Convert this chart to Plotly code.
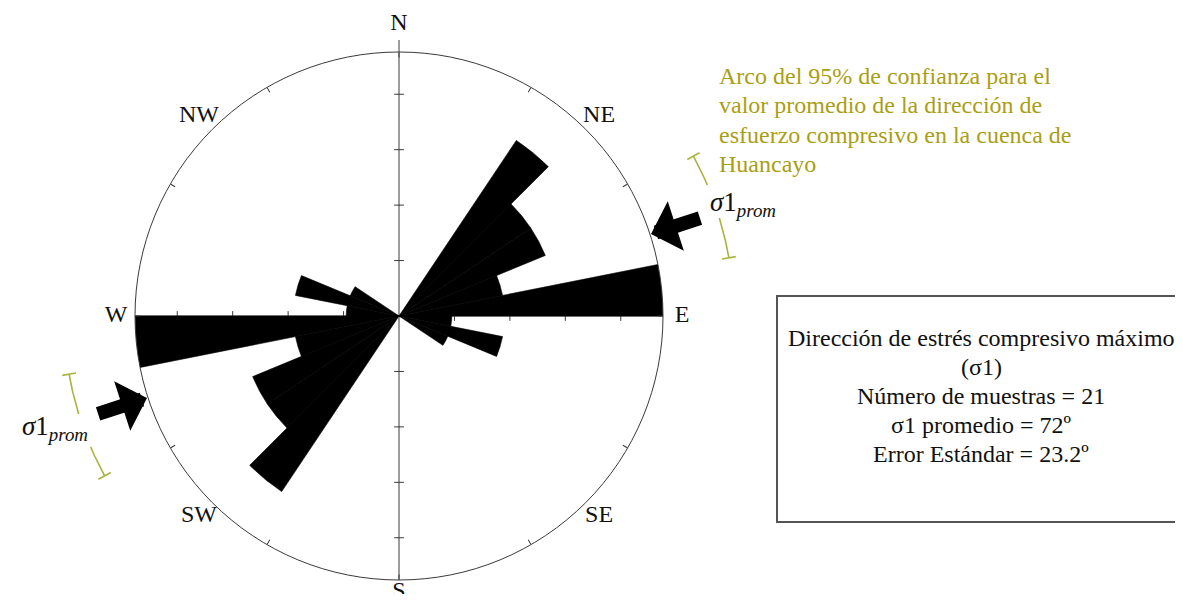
import numpy as np
import plotly.graph_objects as go

# ---------------- data ----------------
bin_width = 11.25
bin_starts_half = [i * bin_width for i in range(16)]          # 0 .. 168.75
counts_half = [0, 0, 0, 4, 3, 3, 2, 5, 1, 2, 1, 0, 0, 0, 0, 0]  # bidirectional, mirrored at +180
n_samples = 21
mean_dir = 72.0
std_error = 23.2
ci_segments = [(61.5, 67.0), (73.0, 80.0)]   # 95% confidence arc (drawn around the mean label)
radial_ticks = [5, 10, 15, 20]               # percent
circle_ticks = list(range(0, 360, 30))
compass_labels = ["N", "NE", "E", "SE", "S", "SW", "W", "NW"]
compass_az = [0, 45, 90, 135, 180, 225, 270, 315]
note_lines = ["Arco del 95% de confianza para el",
              "valor promedio de la dirección de",
              "esfuerzo compresivo en la cuenca de",
              "Huancayo"]
box_lines = ["Dirección de estrés compresivo máximo",
             "(σ1)",
             f"Número de muestras = {n_samples}",
             f"σ1 promedio = {mean_dir:.0f}º",
             f"Error Estándar = {std_error}º"]

# ---------------- geometry (page has an 8px body margin) ----------------
OFF = 8
W, H = 1183 - OFF, 602 - 2 * OFF   # avoid page scrollbars
cx, cy, R_px = 399 - OFF, 316 - OFF, 264


def px(sx):  # screen x -> paper
    return (sx - OFF) / W


def py(sy):  # screen y -> paper
    return 1 - (sy - OFF) / H


theta = [s + bin_width / 2 for s in bin_starts_half] + [s + 180 + bin_width / 2 for s in bin_starts_half]
counts = counts_half + counts_half
pct = [c / n_samples * 100 for c in counts]
pmax = max(pct)
s = R_px / pmax  # px per percent


def xy(az, r):
    a = np.radians(az)
    return r * np.sin(a), r * np.cos(a)


fig = go.Figure()

# polar rose
fig.add_trace(go.Barpolar(
    r=pct, theta=theta, width=[bin_width] * len(theta),
    marker=dict(color="black", line=dict(color="black", width=0.6)),
    hoverinfo="skip", showlegend=False))

# cartesian overlay: axis lines & ticks
OL = "#3a3a3a"
fig.add_trace(go.Scatter(x=[0, 0], y=[-pmax, pmax + 12 / s], mode="lines",
                         line=dict(color=OL, width=1), showlegend=False, hoverinfo="skip"))
fig.add_trace(go.Scatter(x=[-pmax, pmax], y=[0, 0], mode="lines",
                         line=dict(color=OL, width=1), showlegend=False, hoverinfo="skip"))
tx = [t for t in radial_ticks] + [-t for t in radial_ticks]
fig.add_trace(go.Scatter(x=tx, y=[0] * len(tx), mode="markers",
                         marker=dict(symbol="line-ns", size=7, line=dict(color=OL, width=1)),
                         showlegend=False, hoverinfo="skip"))
fig.add_trace(go.Scatter(x=[0] * len(tx), y=tx, mode="markers",
                         marker=dict(symbol="line-ew", size=7, line=dict(color=OL, width=1)),
                         showlegend=False, hoverinfo="skip"))

# confidence arcs (both directions)
CI_COL = "#a9b43f"
r_ci = 335 / s
cap = 7 / s
for base in (0, 180):
    for a0, a1 in ci_segments:
        aa = np.linspace(a0 + base, a1 + base, 30)
        x, y = xy(aa, r_ci)
        fig.add_trace(go.Scatter(x=x, y=y, mode="lines", line=dict(color=CI_COL, width=1.6),
                                 showlegend=False, hoverinfo="skip"))
    for a in (ci_segments[0][0], ci_segments[-1][1]):
        x0, y0 = xy(a + base, r_ci - cap)
        x1, y1 = xy(a + base, r_ci + cap)
        fig.add_trace(go.Scatter(x=[x0, x1], y=[y0, y1], mode="lines", line=dict(color=CI_COL, width=1.6),
                                 showlegend=False, hoverinfo="skip"))

# compass labels
lx, ly = [], []
for lab, az in zip(compass_labels, compass_az):
    rr = {"N": 292, "S": 276}.get(lab, 283) / s
    x, y = xy(az, rr)
    lx.append(x); ly.append(y)
fig.add_trace(go.Scatter(x=lx, y=ly, mode="text", text=compass_labels,
                         textfont=dict(family="Liberation Serif", size=24, color="#111"),
                         showlegend=False, hoverinfo="skip", cliponaxis=False))

annotations = []
# mean-direction arrows and labels
for base in (0, 180):
    az = mean_dir + base
    tx_, ty_ = xy(az, pmax + 1 / s)
    ax_, ay_ = xy(az, pmax + 54 / s)
    annotations.append(dict(x=tx_, y=ty_, ax=ax_, ay=ay_, xref="x", yref="y", axref="x", ayref="y",
                            text="", showarrow=True, arrowhead=1, arrowwidth=14, arrowsize=0.62,
                            arrowcolor="black", standoff=0))
    lxx, lyy = xy(az, 362 / s)
    annotations.append(dict(x=lxx, y=lyy, xref="x", yref="y", showarrow=False,
                            text="<i>σ</i>1<sub><i>prom</i></sub>",
                            font=dict(family="Liberation Serif", size=27, color="#111")))

note_y = [76, 105, 135, 164]
for t, yy in zip(note_lines, note_y):
    annotations.append(dict(x=px(717), y=py(yy), xref="paper", yref="paper", xanchor="left",
                            yanchor="middle", showarrow=False, text=t,
                            font=dict(family="Liberation Serif", size=24, color="#aa9e14")))

box_y = [338, 367, 396, 425, 454]
for t, yy in zip(box_lines, box_y):
    annotations.append(dict(x=px(981), y=py(yy), xref="paper", yref="paper", xanchor="center",
                            yanchor="middle", showarrow=False, text=t,
                            font=dict(family="Liberation Serif", size=24, color="#111")))

fig.update_layout(
    width=W, height=H, margin=dict(l=0, r=0, t=0, b=0),
    paper_bgcolor="white", plot_bgcolor="rgba(0,0,0,0)",
    showlegend=False,
    xaxis=dict(domain=[0, 1], range=[-cx / s, (W - cx) / s], visible=False, fixedrange=True),
    yaxis=dict(domain=[0, 1], range=[-(H - cy) / s, cy / s], visible=False, fixedrange=True),
    polar=dict(
        domain=dict(x=[(cx - R_px) / W, (cx + R_px) / W],
                    y=[(H - cy - R_px) / H, (H - cy + R_px) / H]),
        bgcolor="rgba(0,0,0,0)",
        radialaxis=dict(range=[0, pmax], visible=False),
        angularaxis=dict(rotation=90, direction="clockwise", showline=True, linecolor=OL, linewidth=1,
                         ticks="inside", ticklen=5, tickcolor=OL, tickvals=circle_ticks,
                         showticklabels=False, showgrid=False),
    ),
    shapes=[dict(type="path", xref="paper", yref="paper",
                 path=f"M {px(1260)},{py(296)} L {px(777)},{py(296)} L {px(777)},{py(522)} L {px(1260)},{py(522)}",
                 line=dict(color="#555", width=2))],
    annotations=annotations,
)

fig.write_html("out.html")
